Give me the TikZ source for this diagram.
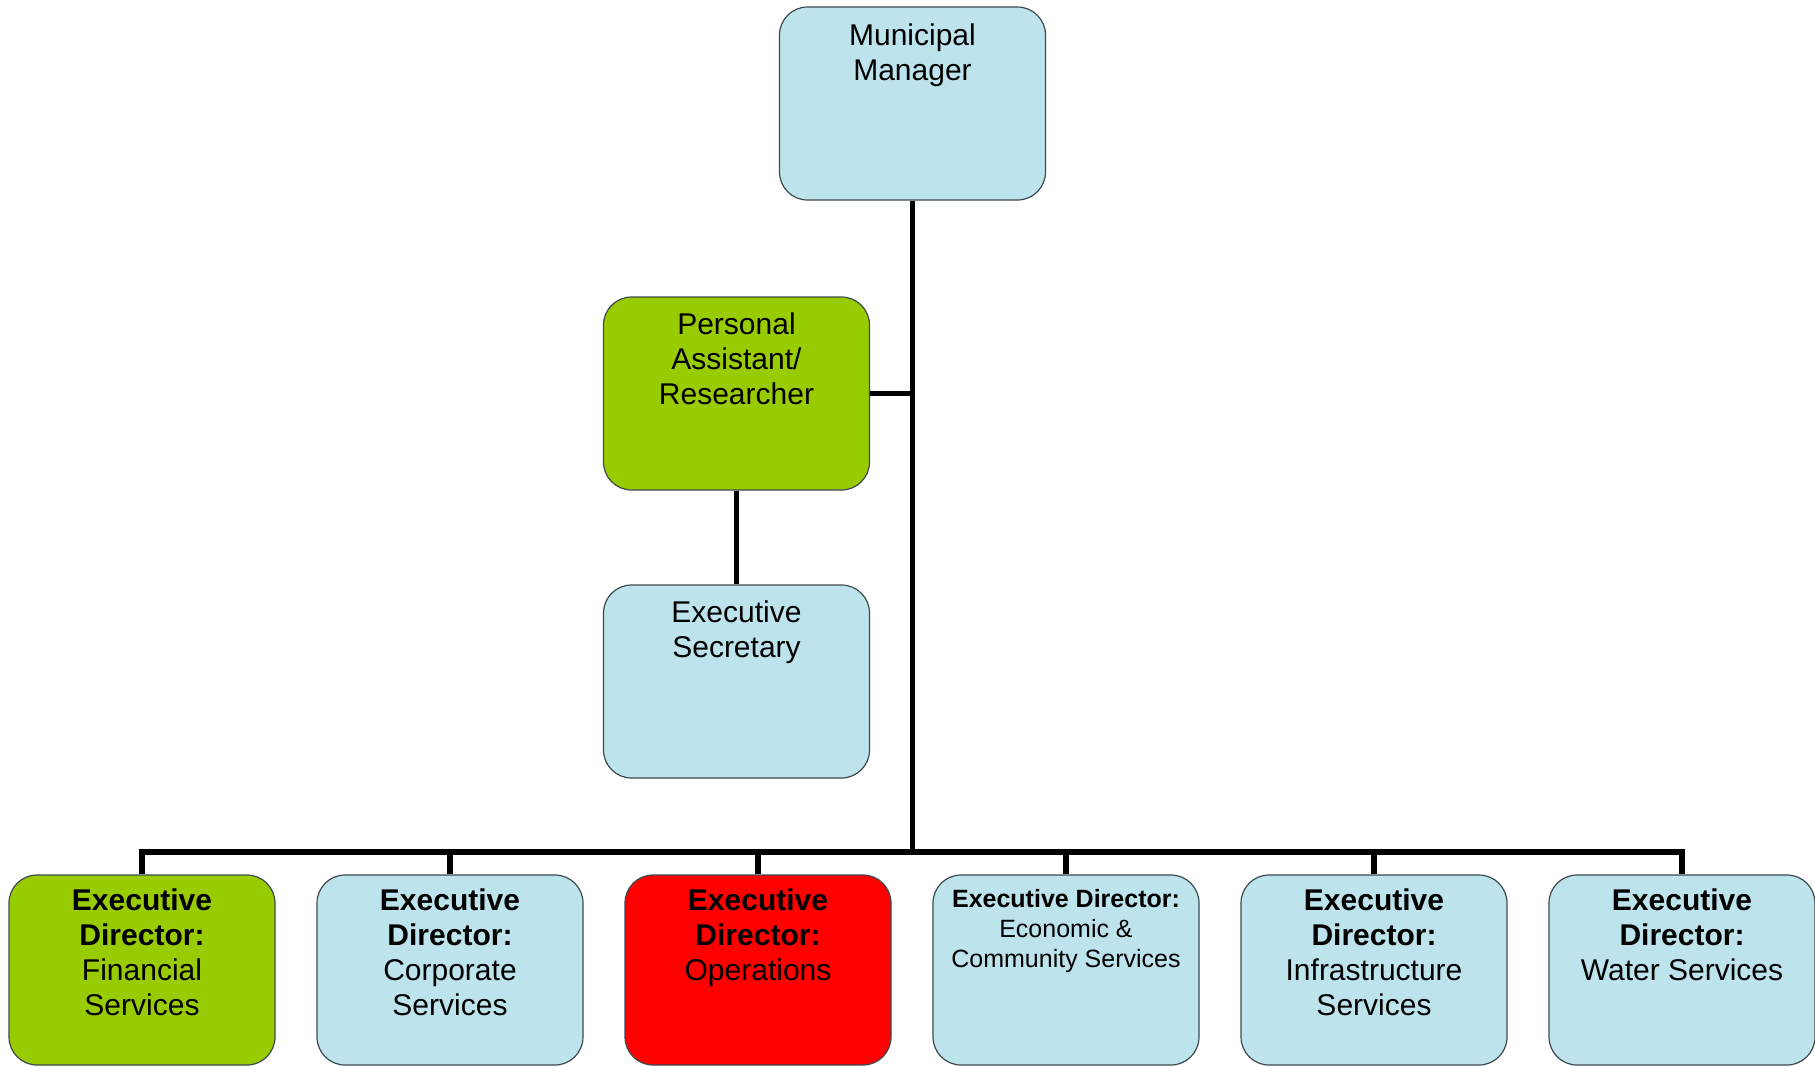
\documentclass[tikz,border=0pt]{standalone}
\usepackage{fontspec}
\setmainfont{Liberation Sans}
\definecolor{boxblue}{HTML}{BDE4EC}
\definecolor{boxgreen}{HTML}{99CC00}
\definecolor{boxred}{HTML}{FF0000}
\definecolor{boxedge}{HTML}{3C4A4E}
\begin{document}
\begin{tikzpicture}[x=1pt,y=-1pt,
  post/.style={draw=boxedge, line width=1.2pt, rounded corners=28pt,
    minimum width=266pt, minimum height=193pt, inner sep=0pt, fill=boxblue},
  director/.style={post, minimum height=190pt},
  title/.style={anchor=base, align=center, inner sep=0pt,
    font=\fontsize{30}{35}\selectfont},
  smalltitle/.style={title, font=\fontsize{25}{30}\selectfont},
  link/.style={line width=5.5pt, line join=miter}]
\useasboundingbox (0,0) rectangle (1815,1066);

% top of the hierarchy and the office support
\node[post] (mm) at (912.5,103.5) {};
\node[post, fill=boxgreen] (pa) at (736.5,393.5) {};
\node[post] (es) at (736.5,681.5) {};

% executive directors
\node[director, fill=boxgreen] (d1) at (142,970) {};
\node[director] (d2) at (450,970) {};
\node[director, fill=boxred] (d3) at (758,970) {};
\node[director] (d4) at (1066,970) {};
\node[director] (d5) at (1374,970) {};
\node[director] (d6) at (1682,970) {};

% labels (the base anchor sits on the baseline of the last line)
\node[title] (mm-t) at ([yshift=-74pt]mm.north) {Municipal\\Manager};
\node[title] (pa-t) at ([yshift=-108pt]pa.north) {Personal\\Assistant/\\Researcher};
\node[title] (es-t) at ([yshift=-73pt]es.north) {Executive\\Secretary};
\node[title] (d1-t) at ([yshift=-141pt]d1.north) {\textbf{Executive}\\\textbf{Director:}\\Financial\\Services};
\node[title] (d2-t) at ([yshift=-141pt]d2.north) {\textbf{Executive}\\\textbf{Director:}\\Corporate\\Services};
\node[title] (d3-t) at ([yshift=-106pt]d3.north) {\textbf{Executive}\\\textbf{Director:}\\Operations};
\node[smalltitle] (d4-t) at ([yshift=-93pt]d4.north) {\textbf{Executive Director:}\\Economic \&\\Community Services};
\node[title] (d5-t) at ([yshift=-141pt]d5.north) {\textbf{Executive}\\\textbf{Director:}\\Infrastructure\\Services};
\node[title] (d6-t) at ([yshift=-106pt]d6.north) {\textbf{Executive}\\\textbf{Director:}\\Water Services};

% reporting lines
\coordinate (bus) at (912,852);
\draw[link] (mm.south) -- (mm.south |- bus);
\draw[link] (pa.east) -- (pa.east -| mm.south);
\draw[link] (pa.south) -- (es.north);
\draw[link] (d1.north) -- (d1.north |- bus) -- (d6.north |- bus) -- (d6.north);
\foreach \d in {d2,d3,d4,d5}
  \draw[link] (\d.north) -- (\d.north |- bus);
\end{tikzpicture}
\end{document}
